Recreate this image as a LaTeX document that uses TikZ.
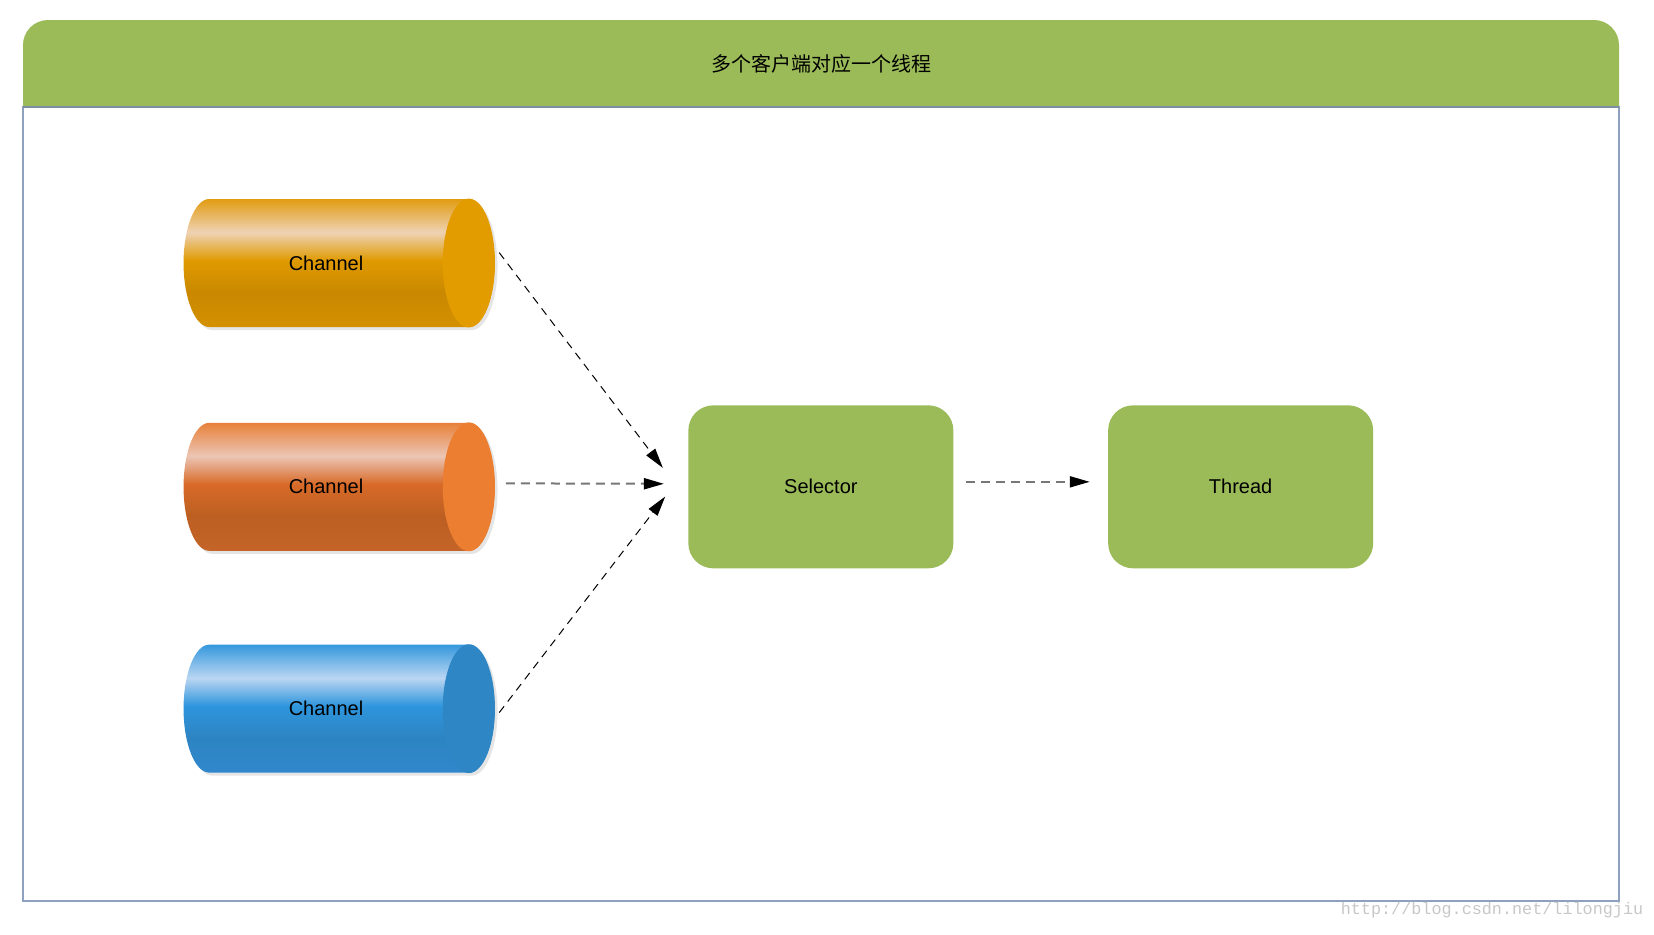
\documentclass[tikz,border=0pt]{standalone}
\usepackage{fontspec}
\setmainfont{Liberation Sans}
\newfontfamily\cjk{Noto Sans CJK SC}
\newfontfamily\urlfont{Liberation Mono}
\usetikzlibrary{arrows.meta,positioning,calc,shapes.geometric,shadows}

\definecolor{lanegreen}{HTML}{9BBB59}
\definecolor{frameblue}{HTML}{8EA2C0}
\definecolor{headline}{HTML}{7D8FA6}
\definecolor{arrowgray}{HTML}{777777}
% cylinder colours: top, highlight, middle, dark, bottom, cap
\definecolor{goldT}{HTML}{E29C12}\definecolor{goldH}{HTML}{EED2B4}
\definecolor{goldM}{HTML}{E09A00}\definecolor{goldD}{HTML}{C98800}
\definecolor{goldB}{HTML}{D49000}\definecolor{goldC}{HTML}{E39C00}
\definecolor{orngT}{HTML}{E8813A}\definecolor{orngH}{HTML}{EBC5B4}
\definecolor{orngM}{HTML}{D86A28}\definecolor{orngD}{HTML}{BC5F22}
\definecolor{orngB}{HTML}{C46428}\definecolor{orngC}{HTML}{EB7E30}
\definecolor{blueT}{HTML}{3498DD}\definecolor{blueH}{HTML}{BAD6F2}
\definecolor{blueM}{HTML}{2E95DC}\definecolor{blueD}{HTML}{2E84C2}
\definecolor{blueB}{HTML}{3088CC}\definecolor{blueC}{HTML}{2E86C4}

\pgfdeclareverticalshading{goldbody}{100bp}{color(0bp)=(goldB); color(25bp)=(goldB);
  color(38.5bp)=(goldD); color(51bp)=(goldM); color(62bp)=(goldH); color(75bp)=(goldT); color(100bp)=(goldT)}
\pgfdeclareverticalshading{orngbody}{100bp}{color(0bp)=(orngB); color(25bp)=(orngB);
  color(38.5bp)=(orngD); color(51bp)=(orngM); color(62bp)=(orngH); color(75bp)=(orngT); color(100bp)=(orngT)}
\pgfdeclareverticalshading{bluebody}{100bp}{color(0bp)=(blueB); color(25bp)=(blueB);
  color(38.5bp)=(blueD); color(51bp)=(blueM); color(62bp)=(blueH); color(75bp)=(blueT); color(100bp)=(blueT)}

\begin{document}
\begin{tikzpicture}[
  x=0.5pt, y=-0.5pt,
  font=\fontsize{10}{12}\selectfont,
  channel/.style={shape=cylinder, aspect=3.5, minimum height=155.5pt, minimum width=64pt,
    inner sep=0pt, shade, shading=#1,
    drop shadow={shadow xshift=1.5pt, shadow yshift=-1.5pt, fill=black!10, opacity=1}},
  box/.style={rectangle, fill=lanegreen, rounded corners=12.5pt, minimum width=132.5pt, minimum height=81.5pt},
  arrow/.style={-{Triangle[length=10pt,width=5.5pt,black]}, black, line width=0.5pt, dash pattern=on 4pt off 3pt},
  grayarrow/.style={-{Triangle[length=10pt,width=5.5pt,black]}, arrowgray, line width=1pt, dash pattern=on 4.5pt off 3pt}
]
\useasboundingbox (0,0) rectangle (1654,934);

% frame and header
\draw[frameblue, line width=0.6pt] (23,107) rectangle (1619,901);
\fill[lanegreen, rounded corners=12.5pt] (23,107) |- (1619,20) -- (1619,107);
\draw[headline, line width=0.6pt] (23,107) -- (1619,107);
\node (title) at (821,63.5) {\cjk 多个客户端对应一个线程};

% nodes
\node[channel=goldbody] (ch1) at (326,263) {Channel};
\node[channel=orngbody, below=47.5pt of ch1] (ch2) {Channel};
\node[channel=bluebody, below=46.5pt of ch2] (ch3) {Channel};
\foreach \c/\col in {ch1/goldC, ch2/orngC, ch3/blueC}
  \fill[\col] let \p1=(\c.before top), \p2=(\c.top), \p3=(\c.after top) in
    (\x1,{(\y1+\y3)/2}) ellipse ({abs(\x2-\x1)} and {abs(\y1-\y3)/2});
\node[box, right=96.5pt of ch2] (sel) {Selector};
\node[box, right=77pt of sel] (thr) {Thread};
\coordinate (hub) at ([xshift=-6.5pt,yshift=1.5pt]sel.west);

% connectors
\draw[arrow, shorten <=3.5pt, shorten >=10pt] ([yshift=8pt]ch1.east) -- (hub);
\draw[grayarrow, shorten <=5.5pt, shorten >=5.5pt] ([yshift=1.75pt]ch2.east) -- (hub);
\draw[arrow, shorten <=3.5pt, shorten >=8pt] ([yshift=-4.75pt]ch3.east) -- (hub);
\draw[grayarrow, shorten <=6pt, shorten >=9pt] ([yshift=2.5pt]sel.east) -- ([yshift=2.5pt]thr.west);

\node[text=black!22, font=\urlfont\fontsize{8.4}{10}\selectfont] (url) at (1492,910) {http://blog.csdn.net/lilongjiu};
\end{tikzpicture}
\end{document}
